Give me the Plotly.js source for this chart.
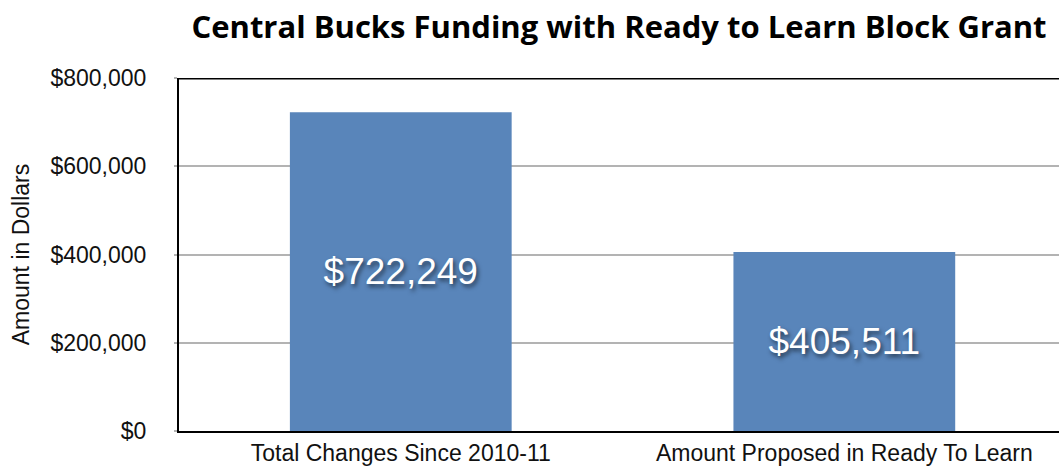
<!DOCTYPE html>
<html>
<head>
<meta charset="utf-8">
<script src="https://cdn.plot.ly/plotly-3.0.1.min.js"></script>
<style>html,body{margin:0;padding:0;overflow:hidden;background:#fff;}</style>
</head>
<body>
<div id="chart" style="width:1059px;height:466px;"></div>
<script>
const categories = ["Total Changes Since 2010-11", "Amount Proposed in Ready To Learn"];
const amounts = [722249, 405511];
const tickValues = [0, 200000, 400000, 600000, 800000];
const tickLabels = ["$0", "$200,000", "$400,000", "$600,000", "$800,000"];

const labelText = amounts.map(v => "$" + v.toLocaleString("en-US"));

const trace = {
  type: "bar",
  x: categories,
  y: amounts,
  text: labelText,
  textposition: "inside",
  insidetextanchor: "middle",
  textangle: 0,
  textfont: {family: "Liberation Sans, Arial, sans-serif", size: 37, color: "#ffffff",
             shadow: "2px 3px 4px rgba(0,0,0,0.55)"},
  marker: {color: "#5985BA", line: {width: 0}},
  hoverinfo: "none",
  cliponaxis: false
};

const layout = {
  width: 1059, height: 466,
  margin: {l: 179, r: 0, t: 78, b: 35},
  paper_bgcolor: "#ffffff", plot_bgcolor: "#ffffff",
  bargap: 0.5,
  showlegend: false,
  title: {
    text: "<b>Central Bucks Funding with Ready to Learn Block Grant</b>",
    font: {family: "Open Sans, sans-serif", size: 31, color: "#000000"},
    x: 0.5, xref: "paper", xanchor: "center",
    y: 1 - 27 / 466, yref: "container", yanchor: "middle"
  },
  xaxis: {
    type: "category",
    range: [-0.5, 1.484],
    showline: true, linecolor: "#000000", linewidth: 2,
    showgrid: false, zeroline: false,
    ticks: "", ticklabelstandoff: 0,
    tickfont: {family: "Liberation Sans, Arial, sans-serif", size: 23, color: "#111111"},
    fixedrange: true
  },
  yaxis: {
    range: [0, 800000],
    tickvals: tickValues, ticktext: tickLabels,
    showline: true, linecolor: "#000000", linewidth: 2,
    showgrid: true, gridcolor: "#b3b3b3", gridwidth: 2,
    zeroline: false,
    ticks: "outside", ticklen: 3, tickcolor: "#b3b3b3", tickwidth: 2,
    ticklabelstandoff: 23,
    tickfont: {family: "Liberation Sans, Arial, sans-serif", size: 23, color: "#111111"},
    title: {text: "Amount in Dollars", standoff: 14,
            font: {family: "Liberation Sans, Arial, sans-serif", size: 23, color: "#111111"}},
    automargin: false,
    fixedrange: true
  },
  shapes: [{
    type: "line", xref: "paper", yref: "y",
    x0: 0, x1: 1, y0: 800000, y1: 800000,
    line: {color: "#000000", width: 3}
  }]
};

Plotly.newPlot("chart", [trace], layout, {displayModeBar: false, staticPlot: true});
</script>
</body>
</html>
